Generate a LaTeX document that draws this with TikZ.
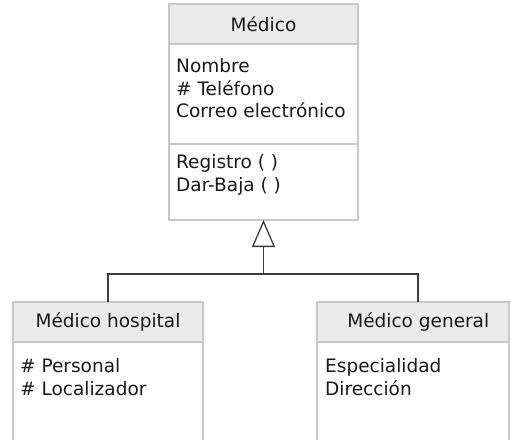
\documentclass[tikz,border=0pt]{standalone}
\usepackage{fontspec}
\setmainfont{DejaVu Sans}
\usetikzlibrary{arrows.meta, positioning}
\definecolor{boxgray}{RGB}{200, 200, 200}
\definecolor{headgray}{RGB}{235, 235, 235}
\definecolor{linegray}{RGB}{60, 60, 60}
\definecolor{textgray}{RGB}{25, 25, 25}
\tikzset{
  clsbox/.style={draw=boxgray, line width=2.4pt, minimum width=189pt, inner sep=0pt, outer sep=0pt, text=textgray},
  clshead/.style={clsbox, fill=headgray, minimum height=40pt, font=\fontsize{18.5}{22}\selectfont},
  clsbody/.style={clsbox, fill=white},
  clstext/.style={anchor=north west, inner sep=0pt, align=left, text=textgray, font=\fontsize{18.5}{22.8}\selectfont},
  conn/.style={draw=linegray, line width=1.6pt},
}
\begin{document}
\begin{tikzpicture}[x=1pt, y=-1pt]
  \useasboundingbox (0,0) rectangle (510,439);
  \clip (0,0) rectangle (510,439);
  % clase padre
  \node[clshead] (medhead) at (263.5,24) {Médico};
  \node[clsbody, minimum height=100pt, below=0pt of medhead] (medattr) {};
  \node[clsbody, minimum height=76pt, below=0pt of medattr] (medops) {};
  \node[clstext] (medattrtxt) at ([xshift=7pt, yshift=-14pt]medattr.north west) {Nombre\\\# Teléfono\\Correo electrónico};
  \node[clstext] (medopstxt) at ([xshift=7pt, yshift=-10pt]medops.north west) {Registro ( )\\Dar-Baja ( )};
  % subclases
  \node[clshead, minimum width=190pt] (hosphead) at (108,322) {Médico hospital};
  \node[clsbody, minimum width=190pt, minimum height=110pt, below=0pt of hosphead] (hospattr) {};
  \node[clstext] (hosptxt) at ([xshift=7pt, yshift=-16pt]hospattr.north west) {\# Personal\\\# Localizador};
  \node[clshead, minimum width=192.5pt] (genhead) at (413.25,322) {\hspace*{10pt}Médico general};
  \node[clsbody, minimum width=192.5pt, minimum height=110pt, below=0pt of genhead] (genattr) {};
  \node[clstext] (gentxt) at ([xshift=8pt, yshift=-16pt]genattr.north west) {Especialidad\\Dirección};
  % herencia
  \coordinate (join) at (263.5,274);
  \draw[conn] (hosphead.north) |- (join) -| ([xshift=5pt]genhead.north);
  \draw[conn, -{Triangle[open, length=27pt, width=23pt, line width=1.3pt]}] (join) -- (medops.south);
\end{tikzpicture}
\end{document}
